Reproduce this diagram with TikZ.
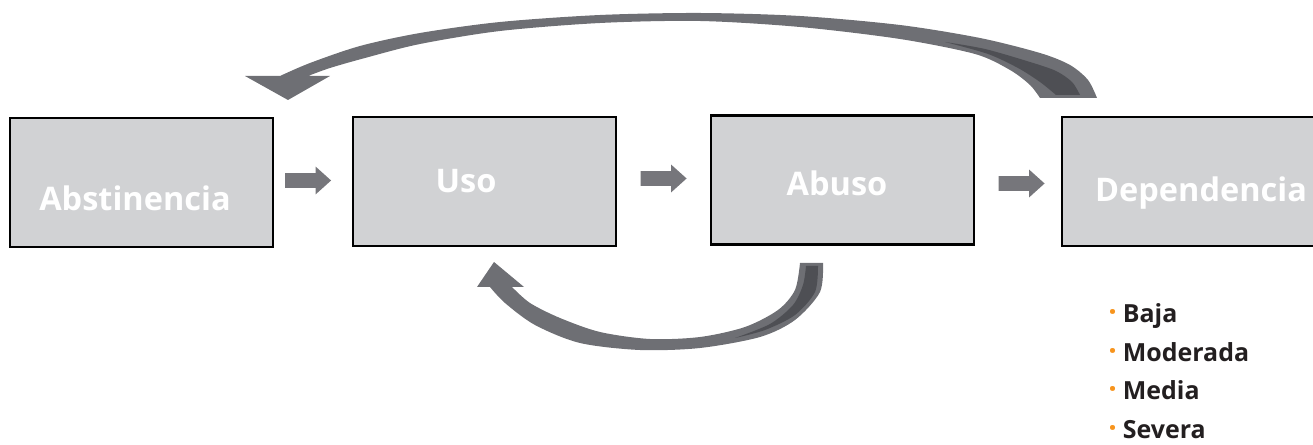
\documentclass[tikz,border=0pt]{standalone}
\usepackage{fontspec}
\setmainfont{Open Sans}
\usetikzlibrary{shapes.arrows}
\definecolor{cajagris}{RGB}{209,210,212}
\definecolor{flechagris}{RGB}{118,118,123}
\definecolor{arcogris}{RGB}{110,111,116}
\definecolor{arcoosc}{RGB}{78,79,84}
\definecolor{naranja}{RGB}{247,148,29}
\definecolor{textoosc}{RGB}{35,31,32}
\tikzset{
  caja/.style={draw=black, line width=1.4pt, fill=cajagris,
    minimum width=5.26cm, minimum height=2.58cm, inner sep=0pt},
  rotulo/.style={text=white, font=\bfseries\fontsize{18.5}{22}\selectfont,
    anchor=base, inner sep=0pt},
  flechita/.style={single arrow, fill=flechagris, draw=none,
    minimum height=0.92cm, inner xsep=0pt, inner ysep=0.14cm,
    single arrow head extend=0.13cm, single arrow tip angle=84},
  item/.style={text=textoosc, font=\bfseries\fontsize{14.2}{17}\selectfont,
    anchor=base west, inner sep=0pt}
}

\begin{document}
\begin{tikzpicture}[x=0.02cm,y=-0.02cm]
\useasboundingbox (0,0) rectangle (1313,445);

% the four stages
\node[caja] (abst)  at (141.5,182.5) {};
\node[caja] (uso)   at (484.5,181.5) {};
\node[caja] (abuso) at (842.5,180) {};
\node[caja,minimum width=5.36cm] (dep) at (1196,181.5) {};

\node[rotulo] (tabst)  at (135,211)  {Abstinencia};
\node[rotulo] (tuso)   at (466,193)  {Uso};
\node[rotulo] (tabuso) at (837,196)  {Abuso};
\node[rotulo] (tdep)   at (1201,202) {Dependencia};

% small arrows between the boxes
\node[flechita] (f1) at (304,180.5) {};
\node[flechita] (f2) at (659.5,178.5) {};
\node[flechita] (f3) at (1017.5,183.5) {};

% big arc on top, Dependencia back to Abstinencia
\fill[arcogris] (1040,98) -- (1097,98)
  -- plot[smooth] coordinates {(1097,98) (1088,80) (1070,65) (1040,53) (980,38)
       (900,25) (800,16) (700,13) (600,15) (500,22) (420,33) (360,46) (310,63) (280,76)}
  -- (245,76) -- (288,100) -- (330,76) -- (308,76)
  -- plot[smooth] coordinates {(308,76) (330,68) (365,58) (420,44) (500,31) (600,23)
       (700,21) (800,27) (900,39) (975,54) (1010,70) (1030,85) (1040,98)}
  -- cycle;
\fill[arcoosc] (1056,95) -- (1080,95)
  -- plot[smooth] coordinates {(1080,95) (1072,82) (1056,71) (1030,62) (985,49) (945,42)}
  -- plot[smooth] coordinates {(945,42) (988,54) (1018,68) (1040,82) (1056,95)}
  -- cycle;

% lower arc, Abuso back to Uso
\fill[arcogris] (800,263) -- (823,263)
  -- plot[smooth] coordinates {(823,263) (820,292) (795,320) (760,337) (700,348)
       (640,350) (580,343) (535,325) (505,303) (490,287)}
  -- (477,287) -- (494,262) -- (524,287) -- (512,287)
  -- plot[smooth] coordinates {(512,287) (530,303) (560,318) (600,332) (650,339)
       (700,337) (745,327) (778,310) (795,290) (800,263)}
  -- cycle;
\fill[arcoosc] (806,266) -- (818,266)
  -- plot[smooth] coordinates {(818,266) (815,292) (795,315) (765,330) (735,338)}
  -- plot[smooth] coordinates {(735,338) (770,324) (793,305) (803,285) (806,266)}
  -- cycle;

% levels of dependence
\foreach \nivel [count=\i from 0] in {Baja,Moderada,Media,Severa}
  \node[item] (n\i) at (1108,{323+38.5*\i})
    {{\fontsize{17}{17}\selectfont\color{naranja}·}\hspace{0.12cm}\nivel};
\end{tikzpicture}
\end{document}
